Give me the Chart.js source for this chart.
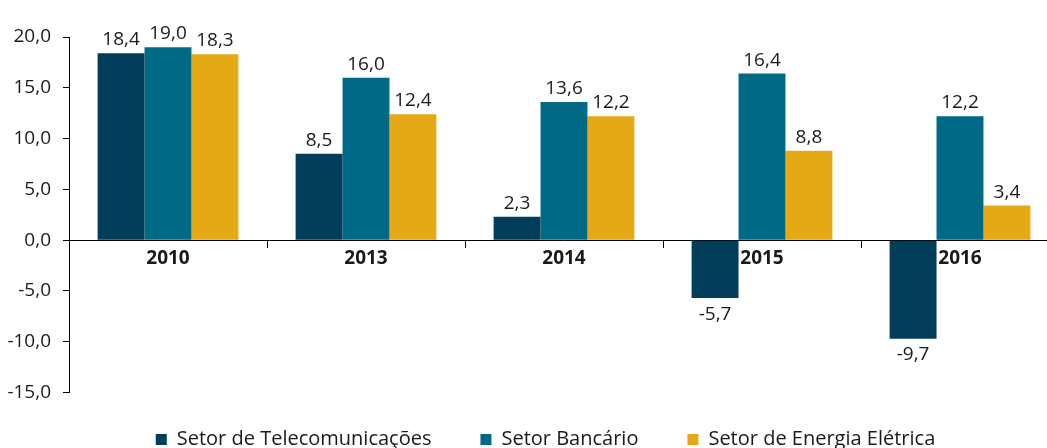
<!DOCTYPE html>
<html>
<head>
<meta charset="utf-8">
<script src="https://cdn.jsdelivr.net/npm/chart.js@4/dist/chart.umd.min.js"></script>
<style>
  html, body { margin: 0; padding: 0; background: #fff; overflow: hidden; }
  /* the plot runs a little past the right edge in the original */
  #wrap { width: 1059px; height: 448px; position: relative; }
</style>
</head>
<body>
<div id="wrap"><canvas id="myChart"></canvas></div>
<script>
const years = ["2010", "2013", "2014", "2015", "2016"];
const telecom = [18.4, 8.5, 2.3, -5.7, -9.7];
const bancario = [19.0, 16.0, 13.6, 16.4, 12.2];
const energia = [18.3, 12.4, 12.2, 8.8, 3.4];
const yTicks = [-15, -10, -5, 0, 5, 10, 15, 20];

const FONT = "'Open Sans', 'Noto Sans', sans-serif";
const fmt = (v) => v.toFixed(1).replace(".", ",");

// draws the value above (or below, for negatives) each bar
const valueLabels = {
  id: "valueLabels",
  afterDatasetsDraw(chart) {
    const ctx = chart.ctx;
    ctx.save();
    ctx.font = "19px " + FONT;
    ctx.fillStyle = "#1a1a1a";
    ctx.textAlign = "center";
    ctx.textBaseline = "alphabetic";
    chart.data.datasets.forEach((ds, i) => {
      chart.getDatasetMeta(i).data.forEach((bar, j) => {
        const v = ds.data[j];
        const y = v >= 0 ? bar.y - 8 : bar.y + 21.5;
        ctx.fillText(fmt(v), bar.x, y);
      });
    });
    ctx.restore();
  },
};

// nudge the legend right and up, like the original
const legendShift = {
  id: "legendShift",
  afterLayout(chart) {
    const lg = chart.legend;
    lg.left += 16;
    lg.right += 16;
    lg.top -= 12;
    lg.bottom -= 12;
  },
};

const ctx = document.getElementById("myChart").getContext("2d");

new Chart(ctx, {
  type: "bar",
  data: {
    labels: years,
    datasets: [
      { label: "Setor de Telecomunicações", data: telecom, backgroundColor: "#023d59" },
      { label: "Setor Bancário", data: bancario, backgroundColor: "#006a86" },
      { label: "Setor de Energia Elétrica", data: energia, backgroundColor: "#e5a916" },
    ],
  },
  options: {
    responsive: true,
    maintainAspectRatio: false,
    animation: false,
    categoryPercentage: 0.711,
    barPercentage: 1.0,
    layout: { padding: { left: 0, right: 0, top: 37, bottom: -23.5 } },
    plugins: {
      tooltip: { enabled: false },
      legend: {
        position: "bottom",
        labels: {
          boxWidth: 11,
          boxHeight: 11,
          padding: 49,
          color: "#1a1a1a",
          font: { family: FONT, size: 20 },
        },
      },
    },
    scales: {
      x: {
        position: { y: 0 },
        afterFit: (s) => { s.height = 0; },
        grid: { drawOnChartArea: false, tickLength: 7, color: "#000", offset: true },
        border: { color: "#000", width: 1 },
        ticks: { color: "#1a1a1a", padding: 0, font: { family: FONT, size: 19, weight: "bold" } },
      },
      y: {
        min: -15,
        max: 20,
        afterFit: (s) => { s.width = 69; },
        afterBuildTicks: (s) => { s.ticks = yTicks.map((v) => ({ value: v })); },
        grid: { drawOnChartArea: false, tickLength: 6, color: "#000" },
        border: { color: "#000", width: 1 },
        ticks: {
          color: "#1a1a1a",
          padding: 12,
          font: { family: FONT, size: 19 },
          callback: (v) => fmt(v),
        },
      },
    },
  },
  plugins: [valueLabels, legendShift],
});
</script>
</body>
</html>
